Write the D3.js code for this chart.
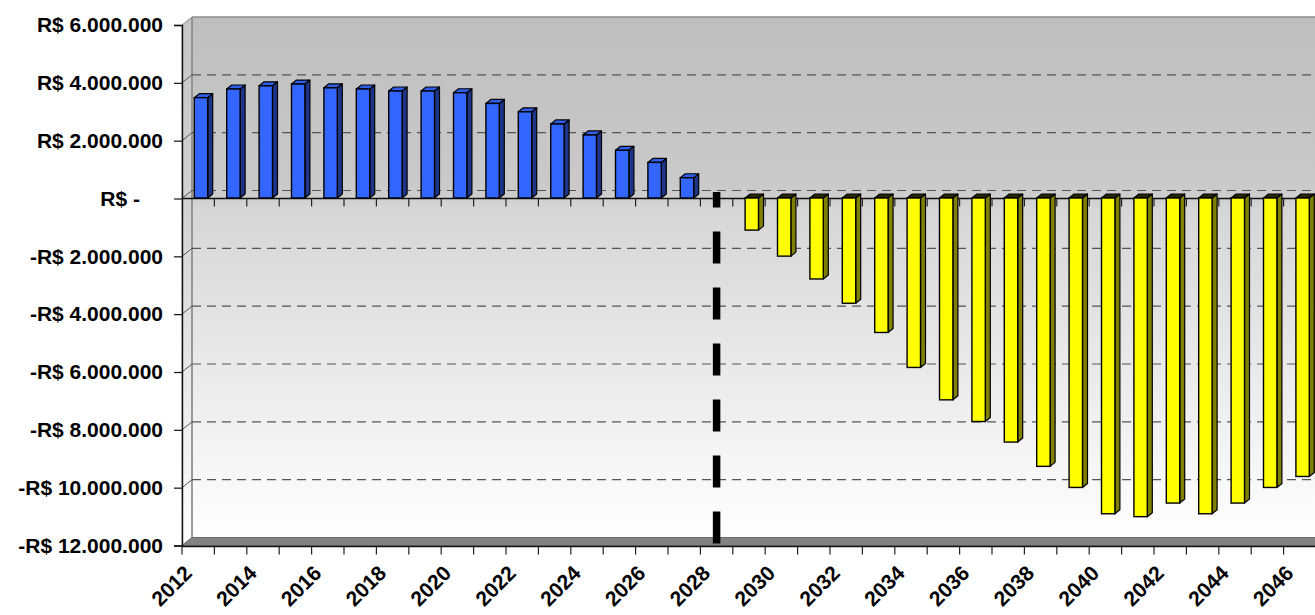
<!DOCTYPE html>
<html>
<head>
<meta charset="utf-8">
<script src="https://cdn.jsdelivr.net/npm/d3@7"></script>
<style>
  html, body { margin: 0; padding: 0; background: #ffffff; }
  svg { display: block; }
  .lbl text { font-family: "Liberation Sans", Arial, sans-serif; font-weight: bold; font-size: 21px; fill: #000; }
</style>
</head>
<body>
<svg id="chart" width="1315" height="615"></svg>
<script>
// Annual result, 2012–2046 (R$)
const years = [2012, 2013, 2014, 2015, 2016, 2017, 2018, 2019, 2020, 2021, 2022, 2023,
               2024, 2025, 2026, 2027, 2028, 2029, 2030, 2031, 2032, 2033, 2034, 2035,
               2036, 2037, 2038, 2039, 2040, 2041, 2042, 2043, 2044, 2045, 2046];

// Surplus years (blue)
const surplusYears = [2012, 2013, 2014, 2015, 2016, 2017, 2018, 2019, 2020, 2021, 2022, 2023,
                      2024, 2025, 2026, 2027];
const surplusValues = [3470000, 3770000, 3880000, 3940000, 3810000, 3770000, 3700000, 3700000,
                       3640000, 3270000, 2980000, 2560000, 2180000, 1650000, 1230000, 700000];

// Deficit years (yellow)
const deficitYears = [2029, 2030, 2031, 2032, 2033, 2034, 2035, 2036, 2037, 2038, 2039, 2040,
                      2041, 2042, 2043, 2044, 2045, 2046];
const deficitValues = [-1110000, -2010000, -2800000, -3640000, -4650000, -5860000, -6980000,
                       -7730000, -8440000, -9280000, -10010000, -10920000, -11020000, -10550000,
                       -10920000, -10550000, -10010000, -9630000];

// Turning-point year marked with the dashed line
const markerYear = 2028;

const yTickValues = [6000000, 4000000, 2000000, 0, -2000000, -4000000, -6000000,
                     -8000000, -10000000, -12000000];
const xLabelYears = [2012, 2014, 2016, 2018, 2020, 2022, 2024, 2026, 2028, 2030, 2032,
                     2034, 2036, 2038, 2040, 2042, 2044, 2046];

// ---- geometry ----
const svg = d3.select("#chart");
const X0 = 182, STEP = 32.4;
const DX = 10, DY = -8;          // depth of the back wall
const BX = 5, BY = -4;           // depth of a column
const x = d3.scaleBand().domain(years).range([X0, X0 + STEP * years.length]).padding(0);
const y = d3.scaleLinear().domain([-12000000, 6000000]).range([545.5, 25]);
const xEnd = X0 + STEP * years.length;

const fmtNum = v => d3.format(",")(v).replace(/,/g, ".");
const fmtMoney = v => v === 0 ? "R$ -" : (v < 0 ? "-R$ " : "R$ ") + fmtNum(Math.abs(v));

// ---- walls ----
const defs = svg.append("defs");
const g1 = defs.append("linearGradient").attr("id", "wallGrad")
  .attr("x1", 0).attr("y1", 0).attr("x2", 0).attr("y2", 1);
g1.append("stop").attr("offset", "0").attr("stop-color", "#bebebe");
g1.append("stop").attr("offset", "0.33").attr("stop-color", "#cacaca");
g1.append("stop").attr("offset", "0.37").attr("stop-color", "#d6d6d6");
g1.append("stop").attr("offset", "1").attr("stop-color", "#ffffff");
const g2 = defs.append("linearGradient").attr("id", "sideGrad")
  .attr("x1", 0).attr("y1", 0).attr("x2", 0).attr("y2", 1);
g2.append("stop").attr("offset", "0").attr("stop-color", "#c6c6c6");
g2.append("stop").attr("offset", "0.35").attr("stop-color", "#d2d2d2");
g2.append("stop").attr("offset", "1").attr("stop-color", "#ffffff");

const yTop = y(6000000), yBot = y(-12000000);

// back wall
svg.append("rect")
  .attr("x", X0 + DX).attr("y", yTop + DY)
  .attr("width", xEnd - X0 + 20).attr("height", yBot - yTop)
  .attr("fill", "url(#wallGrad)");
svg.append("line")
  .attr("x1", X0 + DX).attr("x2", xEnd + DX + 20)
  .attr("y1", yTop + DY).attr("y2", yTop + DY)
  .attr("stroke", "#8c8c8c").attr("stroke-width", 1.5);

// side wall
svg.append("path")
  .attr("d", `M${X0},${yTop} L${X0 + DX},${yTop + DY} L${X0 + DX},${yBot + DY} L${X0},${yBot} Z`)
  .attr("fill", "url(#sideGrad)").attr("stroke", "#8c8c8c").attr("stroke-width", 1);
svg.append("line")
  .attr("x1", X0 + DX).attr("x2", X0 + DX)
  .attr("y1", yTop + DY).attr("y2", yBot + DY)
  .attr("stroke", "#8c8c8c").attr("stroke-width", 1.5);

// floor
svg.append("path")
  .attr("d", `M${X0},${yBot} L${X0 + DX},${yBot + DY} L${xEnd + DX + 20},${yBot + DY} L${xEnd + 20},${yBot} Z`)
  .attr("fill", "#828282").attr("stroke", "#6e6e6e").attr("stroke-width", 1);

// gridlines on the back wall and their diagonals on the side wall
const gridVals = yTickValues.filter(v => v < 6000000 && v > -12000000);
svg.append("g").selectAll("line").data(gridVals).join("line")
  .attr("x1", X0 + DX).attr("x2", xEnd + DX + 20)
  .attr("y1", d => y(d) + DY).attr("y2", d => y(d) + DY)
  .attr("stroke", "#555").attr("stroke-width", 1.2)
  .attr("stroke-dasharray", "9,6");
svg.append("g").selectAll("line").data(gridVals).join("line")
  .attr("x1", X0).attr("x2", X0 + DX)
  .attr("y1", d => y(d)).attr("y2", d => y(d) + DY)
  .attr("stroke", "#555").attr("stroke-width", 1);

// zero axis (front edge) with category ticks
const y0 = y(0);
svg.append("line")
  .attr("x1", X0).attr("x2", xEnd + 20).attr("y1", y0).attr("y2", y0)
  .attr("stroke", "#111").attr("stroke-width", 1.6);
const boundaries = years.map(d => x(d)).concat([xEnd]);
svg.append("g").selectAll("line").data(boundaries.slice(1)).join("line")
  .attr("x1", d => d).attr("x2", d => d)
  .attr("y1", y0).attr("y2", y0 + 8)
  .attr("stroke", "#222").attr("stroke-width", 1.2);

// ---- columns ----
const barOff = 12.3, barW = 13.4, baseShift = -0.5;
function column(g, year, value, cFront, cSide, cTop) {
  const bx = x(year) + barOff;
  const ya = y(Math.max(value, 0)) + baseShift;
  const yb = y(Math.min(value, 0)) + baseShift;
  g.append("path")
    .attr("d", `M${bx + barW},${ya} L${bx + barW + BX},${ya + BY} L${bx + barW + BX},${yb + BY} L${bx + barW},${yb} Z`)
    .attr("fill", cSide).attr("stroke", "#000").attr("stroke-width", 1.2).attr("stroke-linejoin", "round");
  g.append("path")
    .attr("d", `M${bx},${ya} L${bx + BX},${ya + BY} L${bx + barW + BX},${ya + BY} L${bx + barW},${ya} Z`)
    .attr("fill", cTop).attr("stroke", "#000").attr("stroke-width", 1.2).attr("stroke-linejoin", "round");
  g.append("rect")
    .attr("x", bx).attr("y", ya).attr("width", barW).attr("height", yb - ya)
    .attr("fill", cFront).attr("stroke", "#000").attr("stroke-width", 1.4);
}
const bars = svg.append("g");
surplusYears.forEach((yr, i) => column(bars, yr, surplusValues[i], "#3366ff", "#1c3588", "#2f5ee8"));
deficitYears.forEach((yr, i) => column(bars, yr, deficitValues[i], "#ffff00", "#7f7f00", "#262600"));

// ---- dashed turning-point line ----
const mx = x(markerYear) + x.bandwidth() / 2;
svg.append("line")
  .attr("x1", mx).attr("x2", mx)
  .attr("y1", yBot - 2).attr("y2", y0 - 6.5)
  .attr("stroke", "#000").attr("stroke-width", 7.5)
  .attr("stroke-dasharray", "32,24");

// ---- y axis ----
const yAxis = svg.append("g").attr("class", "lbl")
  .attr("transform", `translate(${X0},0)`)
  .call(d3.axisLeft(y).tickValues(yTickValues).tickFormat(fmtMoney).tickSize(8).tickPadding(11));
yAxis.select(".domain").attr("stroke", "#111").attr("stroke-width", 1.4);
yAxis.selectAll(".tick line").attr("stroke", "#111").attr("stroke-width", 1.2);
yAxis.selectAll(".tick text").filter(d => d === 0).attr("dx", -23);

// ---- bottom axis ----
svg.append("line")
  .attr("x1", X0).attr("x2", xEnd + 20).attr("y1", yBot + 1).attr("y2", yBot + 1)
  .attr("stroke", "#111").attr("stroke-width", 1.4);
svg.append("g").selectAll("line").data(boundaries).join("line")
  .attr("x1", d => d).attr("x2", d => d)
  .attr("y1", yBot + 1).attr("y2", yBot + 9)
  .attr("stroke", "#222").attr("stroke-width", 1.2);

const xAxis = svg.append("g").attr("class", "lbl")
  .attr("transform", `translate(0,${yBot + 29})`)
  .call(d3.axisBottom(x).tickValues(xLabelYears).tickSize(0).tickPadding(0));
xAxis.select(".domain").remove();
xAxis.selectAll(".tick text")
  .attr("text-anchor", "end")
  .attr("dy", 0)
  .attr("transform", "translate(-5,0) rotate(-45)");
</script>
</body>
</html>
